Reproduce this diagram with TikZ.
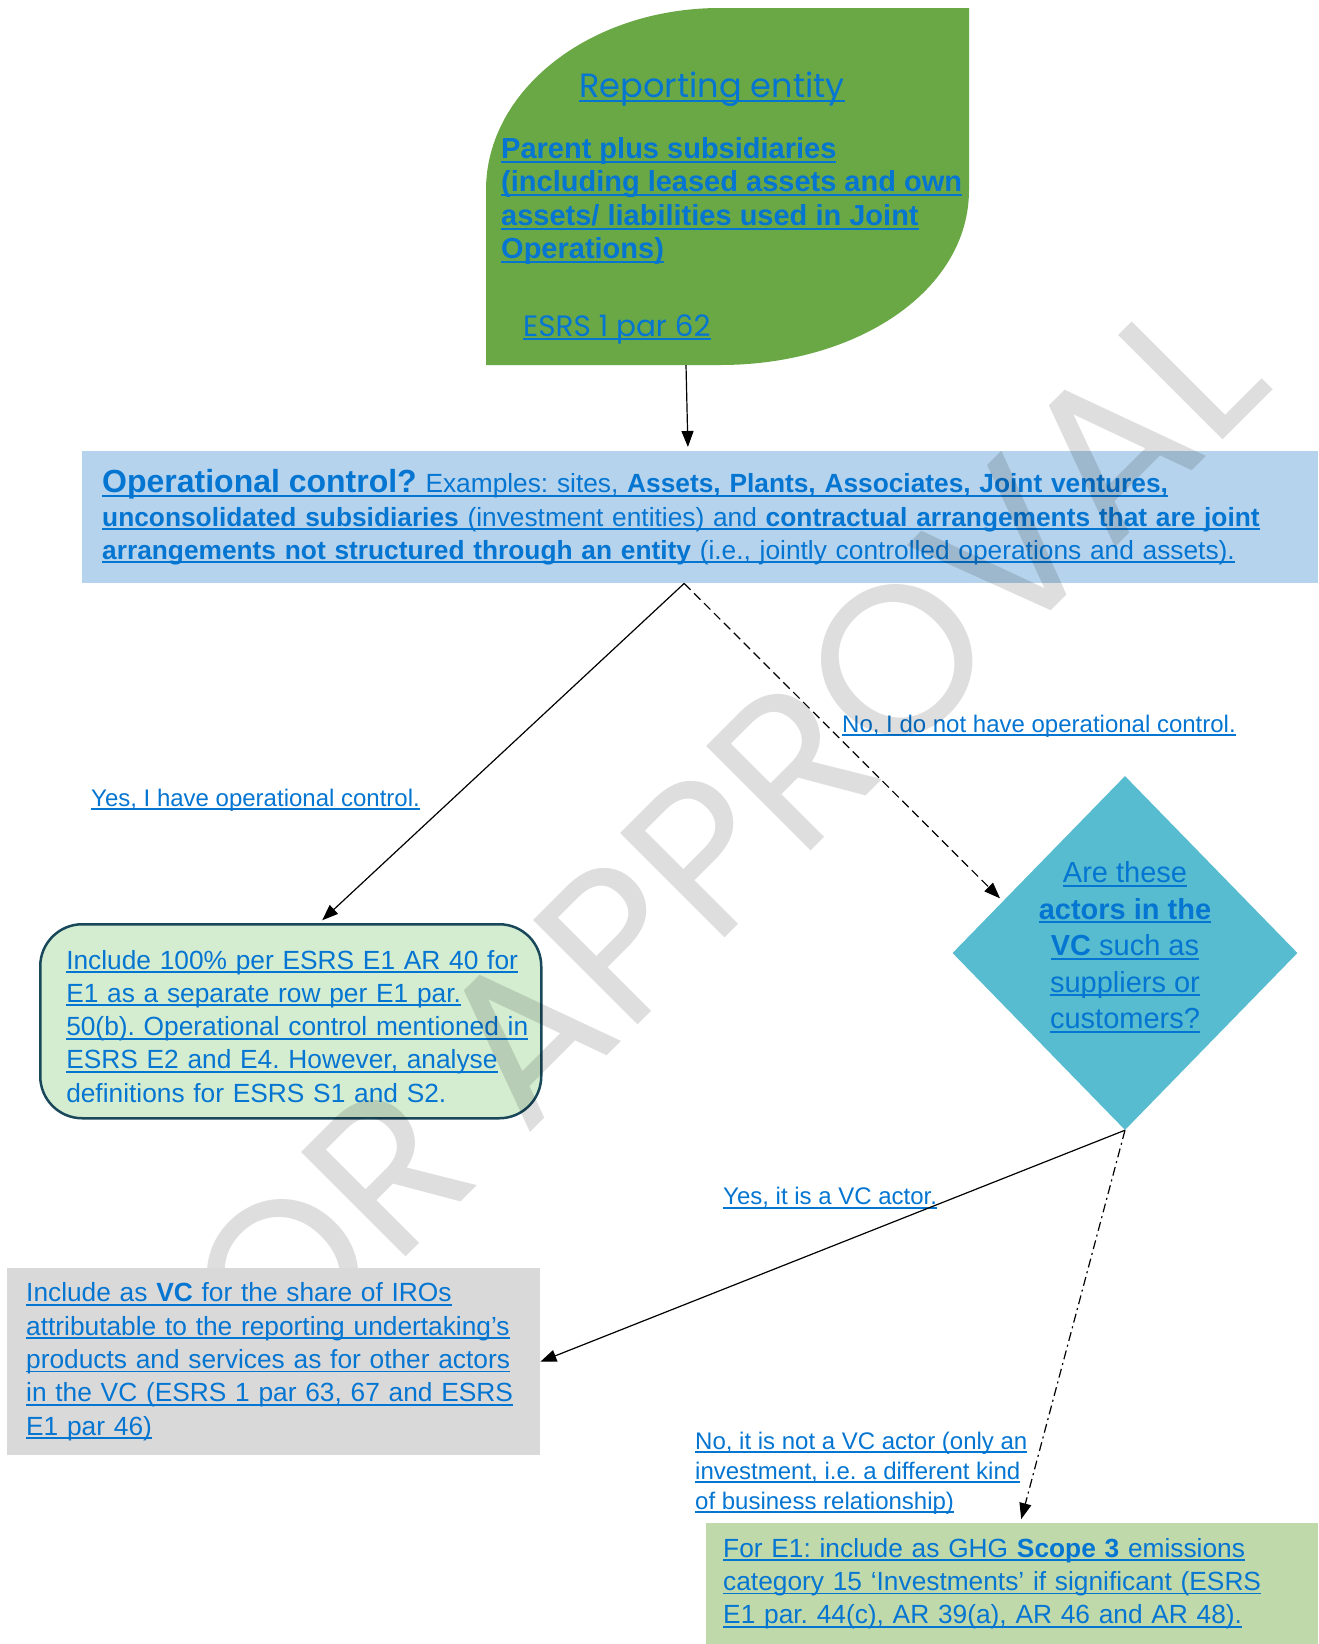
\documentclass[tikz,border=0pt]{standalone}
\usepackage{fontspec}
\setmainfont{Liberation Sans}
\newfontfamily\gothic{Poppins}
\usetikzlibrary{arrows.meta, positioning, shapes.geometric, calc}

\definecolor{leafgreen}{RGB}{106,168,69}
\definecolor{ctrlblue}{RGB}{181,211,236}
\definecolor{inclfill}{RGB}{212,236,208}
\definecolor{inclborder}{RGB}{24,72,90}
\definecolor{vcteal}{RGB}{87,188,207}
\definecolor{grayfill}{RGB}{217,217,217}
\definecolor{scopefill}{RGB}{192,217,171}
\definecolor{lnkblue}{RGB}{5,117,210}

% underlined link text
\newcommand\lk[1]{\leavevmode\setbox0\hbox{#1}\rlap{\vrule height -0.08em depth 0.15em width \wd0}\box0}
\frenchspacing

\begin{document}
\begin{tikzpicture}[x=1pt, y=-1pt,
    every node/.style={text=lnkblue},
    body/.style={font=\fontsize{26.3}{33.3}\selectfont, align=left, anchor=north west, inner ysep=0pt},
    lbl/.style={font=\fontsize{24}{30}\selectfont, align=left, inner sep=0pt, anchor=west},
    arr/.style={-{Triangle[length=16pt,width=12pt]}, line width=1.2pt, shorten >=4pt},
  ]
  \useasboundingbox (0,0) rectangle (1318,1644);

  % reporting entity
  \fill[leafgreen] (486,365) -- (486,190) .. controls (486,89.5) and (590.8,8) .. (720,8)
    -- (969,8) -- (969,190) .. controls (969,290.5) and (857.5,365) .. (720,365) -- cycle;
  \coordinate (E) at (686,365);
  \node[font=\gothic\fontsize{33.6}{36}\selectfont, inner sep=0pt] (Et) at (712,89) {\lk{Reporting entity}};
  \node[font=\bfseries\fontsize{29}{33.5}\selectfont, align=left, anchor=west, inner sep=0pt] (Eb) at (501,201) {\lk{Parent plus subsidiaries}\\ \lk{(including leased assets and own}\\ \lk{assets/ liabilities used in Joint}\\ \lk{Operations)}};
  \node[font=\gothic\fontsize{29.5}{32}\selectfont, anchor=west, inner sep=0pt] (Er) at (523,329) {\lk{ESRS 1 par 62}};

  \node[body, fill=ctrlblue, text width=1196, inner xsep=20, minimum height=132] (C) at (82,451)
    {\lk{{\fontsize{32}{33}\selectfont\textbf{Operational control?}} Examples: sites, \textbf{Assets, Plants, Associates, Joint ventures,}}\\
     \lk{\textbf{unconsolidated subsidiaries} (investment entities) and \textbf{contractual arrangements that are joint}}\\
     \lk{\textbf{arrangements not structured through an entity} (i.e., jointly controlled operations and assets).}};

  \node[body, fill=inclfill, draw=inclborder, line width=2.5pt, rounded corners=42, text width=449, inner xsep=26, minimum height=194] (I) at (39,923)
    {\lk{Include 100\% per ESRS E1 AR 40 for}\rule{0pt}{29pt}\\ \lk{E1 as a separate row per E1 par.}\\ \lk{50(b). Operational control mentioned in}\\ \lk{ESRS E2 and E4. However, analyse}\\ definitions for ESRS S1 and S2.};

  \node[diamond, fill=vcteal, inner sep=-12pt, minimum width=345, minimum height=354, align=center, font=\fontsize{29}{36.5}\selectfont] (V) at (1125,953)
    {\lk{Are these}\\ \lk{\textbf{actors in the}}\\ \lk{\textbf{VC} such as}\\ \lk{suppliers or}\\ \lk{customers?}\rule[-16pt]{0pt}{1pt}};

  \node[body, fill=scopefill, text width=578, inner xsep=17, minimum height=121] (S) at (706,1523)
    {\lk{For E1: include as GHG \textbf{Scope 3} emissions}\\ \lk{category 15 ‘Investments’ if significant (ESRS}\\ \lk{E1 par. 44(c), AR 39(a), AR 46 and AR 48).}};

  \draw[arr] (E) -- ([xshift=2]E |- C.north);
  \draw[arr] ([xshift=-16]C.south) -- ([xshift=28.5]I.north);
  \draw[arr, dash pattern=on 9pt off 5pt] ([xshift=-16]C.south) -- (V.157);

  \node[lbl] (Ly) at (91,800) {\lk{Yes, I have operational control.}};
  \node[lbl] (Ln) at (842,726) {\lk{No, I do not have operational control.}};
  \node[lbl] (Lv) at (723,1198) {\lk{Yes, it is a VC actor.}};
  \node[lbl] (Lx) at (695,1473) {\lk{No, it is not a VC actor (only an}\\ \lk{investment, i.e. a different kind}\\ \lk{of business relationship)}};

  % watermark
  \node[rotate=45, text=black, text opacity=0.13, font=\gothic\fontsize{212}{212}\selectfont, inner sep=0pt] (W) at (686,872) {FOR APPROVAL};

  \node[body, fill=grayfill, text width=495, inner xsep=19, minimum height=187] (G) at (7,1268)
    {\lk{Include as \textbf{VC} for the share of IROs}\\ \lk{attributable to the reporting undertaking’s}\\ \lk{products and services as for other actors}\\ \lk{in the VC (ESRS 1 par 63, 67 and ESRS}\\ \lk{E1 par 46)}};

  \draw[arr, shorten >=0pt] (V.south) -- (G.east);
  \draw[arr, dash pattern=on 9pt off 4pt on 2pt off 4pt] (V.south) -- ([xshift=8]S.north);
\end{tikzpicture}
\end{document}
